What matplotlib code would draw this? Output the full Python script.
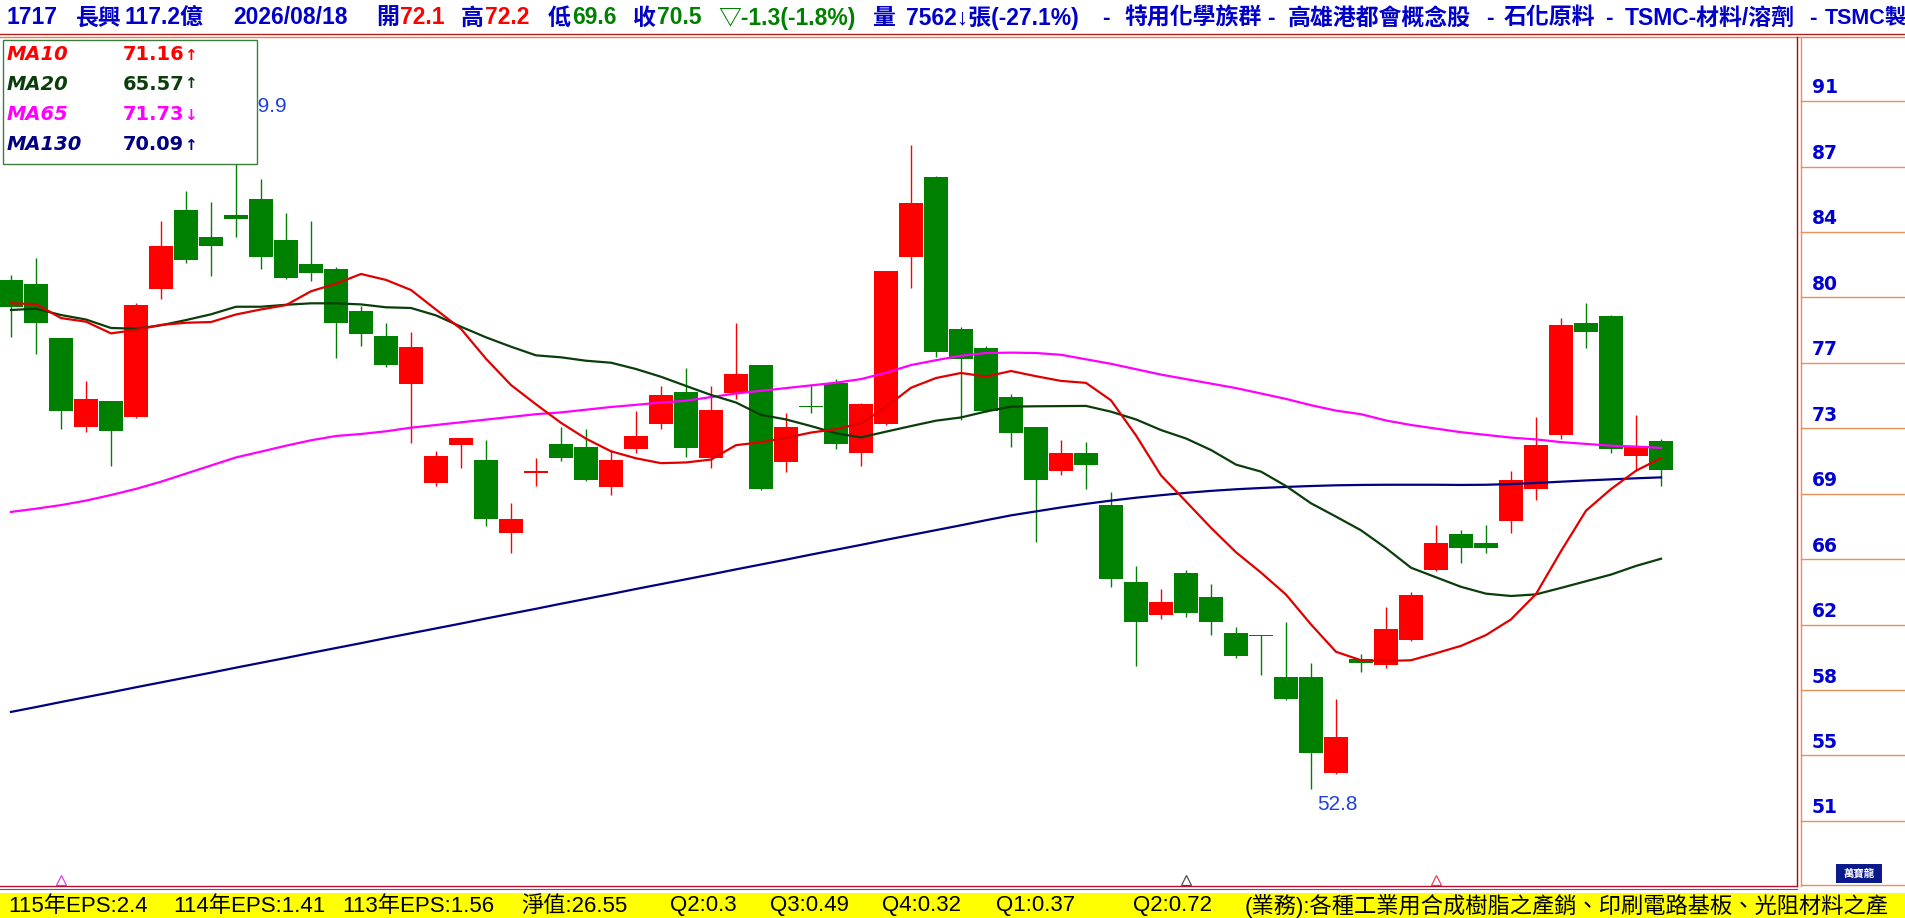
import matplotlib
matplotlib.use("Agg")
import matplotlib.pyplot as plt
from matplotlib.patches import Rectangle
import matplotlib.transforms as mtrans

# ---------------- data ----------------
opens = [81.06, 80.83, 77.83, 72.90, 74.33, 73.46, 80.57, 84.94, 83.44, 84.67,
         85.56, 83.28, 81.94, 81.67, 79.33, 77.94, 75.30, 69.80, 71.90, 71.06,
         67.00, 70.35, 71.94, 71.78, 69.57, 71.68, 73.06, 74.82, 71.18, 74.79,
         76.33, 70.96, 74.05, 75.31, 71.46, 73.06, 82.35, 86.80, 78.33, 77.28,
         74.56, 72.89, 70.46, 71.44, 68.56, 64.28, 62.46, 64.78, 63.44, 61.42,
         61.35, 59.00, 59.00, 53.68, 60.00, 59.67, 61.03, 64.94, 66.94, 66.42,
         67.68, 69.44, 72.44, 78.68, 79.07, 71.29, 72.10]
highs = [81.33, 82.30, 77.83, 75.46, 74.33, 79.80, 84.35, 86.00, 85.39, 89.90,
         86.67, 84.80, 84.35, 81.76, 79.63, 78.68, 78.18, 71.56, 72.28, 72.17,
         68.68, 71.14, 72.90, 72.78, 71.61, 73.78, 75.17, 76.15, 75.17, 78.68,
         76.33, 73.68, 75.30, 75.56, 74.20, 81.56, 88.56, 86.85, 78.46, 77.40,
         74.70, 72.89, 72.17, 72.06, 69.25, 65.17, 63.87, 64.94, 64.17, 61.76,
         61.35, 62.03, 59.75, 57.78, 60.30, 62.90, 63.70, 67.44, 67.17, 67.44,
         70.44, 73.46, 78.95, 79.79, 79.10, 73.56, 72.20]
lows = [77.90, 76.93, 72.76, 72.63, 70.74, 73.40, 80.00, 82.00, 81.30, 83.43,
        81.65, 81.10, 81.00, 76.74, 77.40, 76.24, 72.00, 69.62, 70.63, 67.39,
        65.90, 69.62, 71.00, 69.90, 69.11, 71.43, 72.76, 71.24, 70.63, 74.42,
        69.40, 70.40, 73.65, 71.65, 70.74, 73.00, 80.63, 76.80, 73.28, 73.70,
        71.76, 66.52, 70.22, 69.42, 64.02, 59.63, 62.24, 62.34, 61.35, 60.03,
        59.11, 57.72, 52.80, 53.60, 59.30, 59.50, 61.00, 64.90, 65.35, 65.90,
        67.00, 68.83, 72.20, 77.30, 71.43, 70.46, 69.60]
closes = [79.57, 78.68, 73.80, 74.46, 72.68, 79.67, 82.94, 82.17, 82.96, 84.44,
          82.35, 81.17, 81.46, 78.68, 78.07, 76.35, 77.33, 71.28, 72.28, 67.80,
          67.80, 70.40, 71.18, 69.94, 71.06, 72.39, 74.67, 71.70, 73.83, 75.83,
          69.44, 72.90, 74.00, 71.92, 74.17, 81.56, 85.35, 77.07, 76.68, 73.79,
          72.57, 69.96, 71.44, 70.79, 64.46, 62.07, 63.18, 62.57, 62.07, 60.18,
          61.25, 57.79, 54.79, 55.64, 59.80, 61.67, 63.56, 66.44, 66.18, 66.18,
          69.94, 71.89, 78.56, 78.18, 71.67, 71.85, 70.50]

ma10 = [79.76, 79.72, 78.94, 78.74, 78.09, 78.28, 78.56, 78.68, 78.72, 79.14,
        79.42, 79.66, 80.43, 80.85, 81.39, 81.06, 80.50, 79.41, 78.34, 76.68,
        75.22, 74.15, 73.12, 72.24, 71.54, 71.15, 70.88, 70.92, 71.08, 71.88,
        72.04, 72.29, 72.58, 72.77, 73.09, 74.00, 75.07, 75.61, 75.89, 75.69,
        76.00, 75.71, 75.45, 75.34, 74.37, 72.42, 70.20, 68.75, 67.29, 65.93,
        64.80, 63.58, 61.92, 60.40, 59.93, 59.89, 59.93, 60.32, 60.73, 61.33,
        62.20, 63.61, 65.99, 68.24, 69.44, 70.46, 71.16]
ma20 = [79.39, 79.46, 79.11, 78.86, 78.39, 78.35, 78.54, 78.83, 79.15, 79.57,
        79.57, 79.68, 79.76, 79.76, 79.70, 79.54, 79.50, 79.09, 78.46, 77.87,
        77.35, 76.87, 76.76, 76.57, 76.46, 76.11, 75.68, 75.17, 74.67, 74.25,
        73.56, 73.31, 72.94, 72.54, 72.31, 72.63, 72.94, 73.24, 73.42, 73.75,
        74.02, 74.04, 74.05, 74.06, 73.74, 73.31, 72.72, 72.25, 71.61, 70.80,
        70.41, 69.61, 68.65, 67.91, 67.15, 66.16, 65.07, 64.54, 64.01, 63.63,
        63.50, 63.59, 63.95, 64.32, 64.69, 65.17, 65.57]
ma65 = [68.17, 68.35, 68.55, 68.80, 69.11, 69.45, 69.85, 70.30, 70.75, 71.20,
        71.52, 71.85, 72.15, 72.39, 72.50, 72.65, 72.85, 73.00, 73.15, 73.30,
        73.45, 73.60, 73.70, 73.85, 74.00, 74.12, 74.25, 74.35, 74.55, 74.75,
        74.90, 75.05, 75.20, 75.35, 75.55, 75.90, 76.33, 76.60, 76.85, 77.00,
        77.02, 77.00, 76.90, 76.65, 76.40, 76.10, 75.80, 75.55, 75.30, 75.05,
        74.75, 74.45, 74.10, 73.80, 73.60, 73.25, 73.00, 72.80, 72.60, 72.45,
        72.30, 72.20, 72.05, 71.95, 71.85, 71.80, 71.73]
ma130 = [57.06, 57.33, 57.61, 57.88, 58.15, 58.43, 58.70, 58.97, 59.24, 59.52,
         59.79, 60.06, 60.34, 60.61, 60.88, 61.16, 61.43, 61.70, 61.97, 62.25,
         62.52, 62.79, 63.07, 63.34, 63.61, 63.89, 64.16, 64.43, 64.70, 64.98,
         65.25, 65.52, 65.80, 66.07, 66.34, 66.62, 66.89, 67.16, 67.43, 67.71,
         67.98, 68.20, 68.42, 68.62, 68.80, 68.96, 69.10, 69.23, 69.34, 69.43,
         69.50, 69.56, 69.61, 69.65, 69.67, 69.68, 69.68, 69.68, 69.67, 69.68,
         69.72, 69.78, 69.85, 69.92, 69.98, 70.04, 70.09]

legend_names = ["MA10", "MA20", "MA65", "MA130"]
legend_values = ["71.16", "65.57", "71.73", "70.09"]
legend_arrows = ["↑", "↑", "↓", "↑"]

ytick_values = [91.0, 87.36, 83.73, 80.09, 76.45, 72.82, 69.18, 65.55, 61.91, 58.27, 54.64, 51.0]
ytick_labels = ["91", "87", "84", "80", "77", "73", "69", "66", "62", "58", "55", "51"]

high_idx, high_val = 9, 89.9
low_idx, low_val = 52, 52.8
mark_idx = [2, 47, 57]

header_texts = ["1717", "長興", "117.2億", "2026/08/18", "開", "72.1", "高", "72.2",
                "低", "69.6", "收", "70.5", "▽-1.3(-1.8%)", "量", "7562↓張(-27.1%)",
                "-", "特用化學族群", "-", "高雄港都會概念股", "-", "石化原料", "-",
                "TSMC-材料/溶劑", "-", "TSMC製"]
footer_texts = ["115年EPS:2.4", "114年EPS:1.41", "113年EPS:1.56", "淨值:26.55",
                "Q2:0.3", "Q3:0.49", "Q4:0.32", "Q1:0.37", "Q2:0.72",
                "(業務):各種工業用合成樹脂之產銷、印刷電路基板、光阻材料之產"]

# ---------------- layout / style ----------------
W, H = 1905, 918
BLUE = "#0000C8"
RED = "#FF0000"
GREEN = "#008000"
header_colors = [BLUE, BLUE, BLUE, BLUE, BLUE, RED, BLUE, RED, BLUE, GREEN, BLUE, GREEN,
                 GREEN, BLUE, BLUE, BLUE, BLUE, BLUE, BLUE, BLUE, BLUE, BLUE, BLUE, BLUE, BLUE]
header_x = [6, 76, 124, 233, 376, 397, 461, 482, 548, 567, 633, 655, 718, 873, 906,
            1102, 1124, 1267, 1288, 1486, 1504, 1605, 1625, 1809, 1825]
header_gap = [0, 0, 0, 0, 0, 1, 0, 1, 0, 1, 0, 1, 0, 0, 4,
              0, 0, 0, 0, 0, 0, 0, 0, 0, 0]
footer_x = [6, 173, 342, 521, 670, 770, 882, 996, 1133, 1245]
legend_colors = ["#FF0000", "#0B3D0B", "#FF00FF", "#000080"]
legend_y = [55, 84, 115, 145]
HEAD_FONT = ["Liberation Sans", "Noto Sans CJK TC", "DejaVu Sans"]
CJK = ["Noto Sans CJK TC", "DejaVu Sans"]

plt.rcParams["font.family"] = ["DejaVu Sans"]

fig = plt.figure(figsize=(W / 100, H / 100), dpi=100)
fig.patch.set_facecolor("white")
renderer = fig.canvas.get_renderer()

CH_TOP, CH_BOT = 38, 886   # chart pixel rows
X0_PX, STEP_PX = 11, 25    # first candle centre, candle spacing
Y51_PX, PX_PER_UNIT = 821, 18.0


def fy(py):
    return 1 - py / H


ylo = 51 + (Y51_PX - CH_BOT) / PX_PER_UNIT
yhi = 51 + (Y51_PX - CH_TOP) / PX_PER_UNIT

ax = fig.add_axes([0, fy(CH_BOT), 1797 / W, (CH_BOT - CH_TOP) / H])
ax.set_xlim(-X0_PX / STEP_PX, (1797 - X0_PX) / STEP_PX)
ax.set_ylim(ylo, yhi)
ax.axis("off")

xs = list(range(len(opens)))
cols = [RED if c >= o else GREEN for o, c in zip(opens, closes)]
bottoms = [min(o, c) for o, c in zip(opens, closes)]
heights = [max(abs(c - o), 1.2 / PX_PER_UNIT) for o, c in zip(opens, closes)]

ax.vlines(xs, lows, highs, colors=cols, linewidth=1.0, zorder=2)
ax.bar(xs, heights, bottom=bottoms, width=0.95, color=cols, edgecolor="none", zorder=3)

ax.plot(xs, ma130, color="#000080", lw=1.6, zorder=4)
ax.plot(xs, ma65, color="#FF00FF", lw=1.6, zorder=4)
ax.plot(xs, ma20, color="#0B3D0B", lw=1.6, zorder=4)
ax.plot(xs, ma10, color="#E00000", lw=1.6, zorder=4)

ax.annotate(f"{high_val:.1f}", xy=(high_idx, high_val), xytext=(10, 5),
            textcoords="offset pixels", ha="left", va="bottom",
            fontsize=15, color="#2040E0", family="Liberation Sans", zorder=5)
ax.annotate(f"{low_val:.1f}", xy=(low_idx, low_val), xytext=(6, -6),
            textcoords="offset pixels", ha="left", va="top",
            fontsize=15, color="#2040E0", family="Liberation Sans", zorder=5)

mark_colors = ["#E040E0", "#505050", "#F04060"]
btrans = mtrans.blended_transform_factory(ax.transData, ax.transAxes)
for mi, mc in zip(mark_idx, mark_colors):
    ax.plot([mi], [0.007], transform=btrans, marker="^", markersize=6.5,
            markerfacecolor="none", markeredgecolor=mc, markeredgewidth=0.9,
            clip_on=False, zorder=5)

# ---------------- right price panel ----------------
axr = fig.add_axes([1801 / W, fy(CH_BOT), (W - 1801) / W, (CH_BOT - CH_TOP) / H])
axr.set_xlim(0, 1)
axr.set_ylim(ylo, yhi)
axr.axis("off")
rtrans = mtrans.blended_transform_factory(axr.transAxes, axr.transData)
for v, lab in zip(ytick_values, ytick_labels):
    axr.plot([0, 1], [v, v], color="#E8905A", lw=1.0, transform=rtrans, clip_on=False)
    axr.text(0.105, v + 7.5 / PX_PER_UNIT, lab, transform=rtrans, ha="left", va="baseline",
             fontsize=13.5, fontweight="bold", color="#0000D0", family="DejaVu Sans")

# ---------------- overlay (pixel coords) ----------------
ov = fig.add_axes([0, 0, 1, 1], zorder=10)
ov.set_xlim(0, W)
ov.set_ylim(H, 0)
ov.axis("off")

# header (each segment starts no earlier than the end of the previous one)
prev_end = 0
for x, t, c, g in zip(header_x, header_texts, header_colors, header_gap):
    fs = 15.5 if t == "TSMC製" else 16.5
    x_use = max(x, prev_end + g)
    tt = ov.text(x_use, 18, t, color=c, fontsize=fs, fontweight="bold", family=HEAD_FONT,
                 ha="left", va="center")
    prev_end = tt.get_window_extent(renderer=renderer).x1

# header double line
ov.plot([0, W], [34, 34], color="#B02020", lw=1.0)
ov.plot([0, W], [37, 37], color="#E8804A", lw=1.0)

# chart frame
ov.plot([1797, 1797], [37, CH_BOT], color="#C00000", lw=1.0)
ov.plot([1801, 1801], [37, CH_BOT], color="#E8905A", lw=1.0)
ov.plot([0, 1797], [CH_BOT, CH_BOT], color="#B01030", lw=1.0)
ov.plot([0, 1797], [CH_BOT + 3, CH_BOT + 3], color="#C03050", lw=0.8)
ov.plot([1801, W], [CH_BOT - 1, CH_BOT - 1], color="#E8905A", lw=1.0)

# legend box
ov.add_patch(Rectangle((3, 39.5), 254, 124, facecolor="white",
                       edgecolor="#3C7C3C", lw=1.0, zorder=5))
for name, val, arr, c, y in zip(legend_names, legend_values, legend_arrows,
                                legend_colors, legend_y):
    ov.text(7, y, name, color=c, fontsize=14, fontweight="bold", style="italic",
            ha="left", va="center", zorder=6)
    ov.text(123, y, val, color=c, fontsize=14, fontweight="bold",
            ha="left", va="center", zorder=6)
    ov.text(184, y, arr, color=c, fontsize=11, fontweight="bold",
            ha="left", va="center", zorder=6)

# logo
ov.add_patch(Rectangle((1836, 864), 46, 19, facecolor="#0A1A8A", edgecolor="none", zorder=5))
ov.text(1859, 873.5, "萬寶龍", color="white", fontsize=7.5, fontweight="bold",
        family=CJK, ha="center", va="center", zorder=6)

# footer
ov.add_patch(Rectangle((0, 893), W, H - 893, facecolor="#FFFF00", edgecolor="none", zorder=5))
prev_end = 0
for x, t in zip(footer_x, footer_texts):
    x_use = max(x, prev_end + 8)
    tt = ov.text(x_use, 906, t, color="black", fontsize=16, family=HEAD_FONT,
                 ha="left", va="center", zorder=6)
    prev_end = tt.get_window_extent(renderer=renderer).x1

fig.savefig("out.png", dpi=100, facecolor="white")
